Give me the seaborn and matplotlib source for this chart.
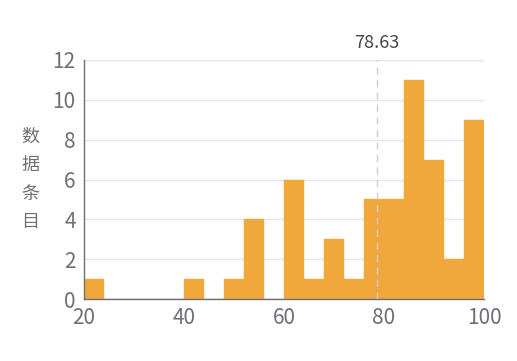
import numpy as np
import matplotlib
matplotlib.use("Agg")
import matplotlib.pyplot as plt
import seaborn as sns

# Datos del histograma
bin_edges = [20, 24, 28, 32, 36, 40, 44, 48, 52, 56, 60,
             64, 68, 72, 76, 80, 84, 88, 92, 96, 100]
counts = [1, 0, 0, 0, 0, 1, 0, 1, 4, 0,
          6, 1, 3, 1, 5, 5, 11, 7, 2, 9]
mean_value = 78.63
y_label = "数\n据\n条\n目"
x_ticks = [20, 40, 60, 80, 100]
y_ticks = [0, 2, 4, 6, 8, 10, 12]

sns.set_style("white")
plt.rcParams["font.family"] = ["Noto Sans CJK SC", "DejaVu Sans"]

bar_color = "#f0a73b"
axis_color = "#6e7079"
grid_color = "#e0e6f1"

fig = plt.figure(figsize=(5.17, 3.61), dpi=100)
ax = fig.add_axes([84 / 517, 1 - 299 / 361, 400 / 517, 239 / 361])

bin_left = bin_edges[:-1]
sns.histplot(x=bin_left, weights=counts, bins=bin_edges, ax=ax,
             color=bar_color, alpha=1, edgecolor=bar_color, linewidth=0.3)

ax.set_xlim(20, 100)
ax.set_ylim(0, 12)
ax.set_xticks(x_ticks)
ax.set_yticks(y_ticks)
ax.yaxis.grid(True, color=grid_color, linewidth=1)
ax.set_axisbelow(True)

for side in ["top", "right"]:
    ax.spines[side].set_visible(False)
for side in ["left", "bottom"]:
    ax.spines[side].set_color(axis_color)
    ax.spines[side].set_linewidth(1)

ax.tick_params(axis="both", colors=axis_color, labelsize=15, length=5,
               width=1, direction="out", pad=1)

ax.set_xlabel("")
ax.set_ylabel(y_label, rotation=0, fontsize=13, color="#6e7079",
              linespacing=1.75, va="center", labelpad=16)

# Linea de la media
ax.axvline(mean_value, ymin=0, ymax=1, color="#c8d0d8", linestyle=(0, (5, 4)),
           linewidth=1, zorder=3)
ax.text(mean_value, 12.4, f"{mean_value:.2f}", ha="center", va="bottom",
        fontsize=13, color="#464646", clip_on=False)

fig.savefig("out.png", dpi=100)
